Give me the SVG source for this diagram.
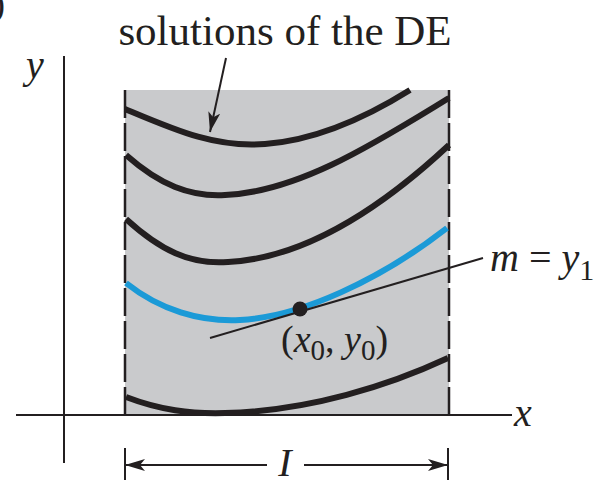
<svg xmlns="http://www.w3.org/2000/svg" width="604" height="480" viewBox="0 0 604 480">
<style>
.sol{fill:none;stroke:#231f20;stroke-width:6;stroke-linecap:butt}
.blue{fill:none;stroke:#1b9ad7;stroke-width:6}
.ax{fill:none;stroke:#231f20;stroke-width:2}
.dash{fill:none;stroke:#231f20;stroke-width:2.5;stroke-dasharray:28 5}
.t{font-family:"Liberation Serif","Times New Roman",serif;fill:#231f20}
.i{font-style:italic}
</style>
<defs>
<marker id="ah" viewBox="0 0 20 12" refX="20" refY="6" markerWidth="20" markerHeight="12" markerUnits="userSpaceOnUse" orient="auto-start-reverse">
<path d="M0,0 L20,6 L0,12 L5,6 Z" fill="#231f20"/>
</marker>
</defs>
<rect width="604" height="480" fill="#fff"/>
<text class="t" x="-7" y="16" font-size="36">)</text>
<g id="region">
<rect x="125" y="90" width="324" height="325" fill="#c9cacc"/>
<line class="dash" x1="125" y1="90" x2="125" y2="415"/>
<line class="dash" x1="449" y1="90" x2="449" y2="415"/>
</g>
<g id="axes">
<line class="ax" x1="16" y1="415" x2="512" y2="415"/>
<line class="ax" x1="64" y1="56" x2="64" y2="463"/>
<text class="t i" x="26" y="78" font-size="40">y</text>
<text class="t i" x="514" y="426" font-size="40">x</text>
</g>
<g id="solutions">
<path class="sol" d="M125,109 C175,130 215,148 265,144 C320,140 370,115 410,90"/>
<path class="sol" d="M126,155 C160,185 190,197 225,195 C300,192 380,140 449,98"/>
<path class="sol" d="M126,219 C160,250 190,265 228,262 C310,258 390,200 449,145"/>
<path class="sol" d="M126,397 C160,410 190,414 225,413 C310,411 390,385 448,358"/>
</g>
<g id="ivp-solution">
<path class="blue" d="M126,283 C160,310 200,322 240,320 C300,317 380,280 447,228"/>
</g>
<g id="connectors">
<line class="ax" x1="226" y1="58" x2="210" y2="132" marker-end="url(#ah)"/>
<line class="ax" x1="210" y1="338" x2="483" y2="258"/>
<line class="ax" x1="125" y1="465" x2="267" y2="465" marker-start="url(#ah)"/>
<line class="ax" x1="304" y1="465" x2="448" y2="465" marker-end="url(#ah)"/>
<line class="ax" x1="125" y1="448" x2="125" y2="480"/>
<line class="ax" x1="448" y1="448" x2="448" y2="480"/>
</g>
<g id="point">
<circle cx="300" cy="309" r="7.5" fill="#231f20"/>
<text class="t" x="281" y="352" font-size="38">(<tspan class="i">x</tspan><tspan font-size="29" dy="8">0</tspan><tspan dy="-8">, </tspan><tspan class="i">y</tspan><tspan font-size="29" dy="8">0</tspan><tspan dy="-8">)</tspan></text>
</g>
<g id="labels">
<text class="t" x="285" y="45" font-size="43" text-anchor="middle">solutions of the DE</text>
<text class="t" x="490" y="271" font-size="40"><tspan class="i">m</tspan> = <tspan class="i">y</tspan><tspan font-size="30" dy="9">1</tspan></text>
<text class="t i" x="285" y="476" font-size="40" text-anchor="middle">I</text>
</g>
</svg>
